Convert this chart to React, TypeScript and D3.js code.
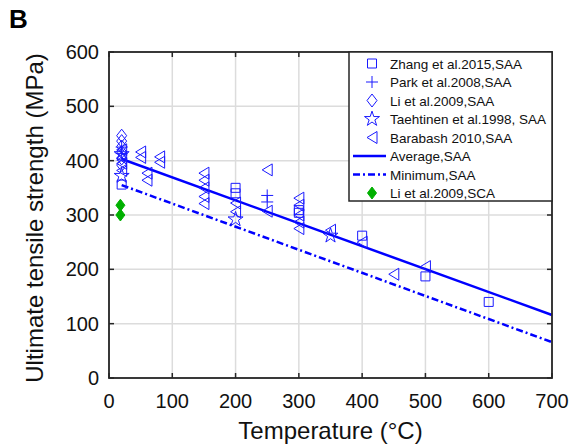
import React from "react";
import * as d3 from "d3";

const xTicks = [0, 100, 200, 300, 400, 500, 600, 700];
const yTicks = [0, 100, 200, 300, 400, 500, 600];

const zhang: [number, number][] = [[20, 356], [200, 350], [200, 340], [300, 309], [300, 304], [400, 262], [500, 187], [600, 140]];
const park: [number, number][] = [[20, 425], [20, 413], [250, 336], [250, 324]];
const liSAA: [number, number][] = [[20, 446], [20, 436], [20, 426], [20, 416], [20, 404], [20, 392]];
const taehtinen: [number, number][] = [[20, 412], [20, 372], [200, 292], [350, 262]];
const barabash: [number, number][] = [
  [20, 420], [20, 405], [20, 395], [20, 382], [50, 416], [50, 406], [60, 377], [60, 364],
  [80, 407], [80, 397], [150, 377], [150, 364], [150, 350], [150, 334], [150, 321],
  [200, 322], [200, 306], [250, 383], [250, 307], [300, 331], [300, 318], [300, 300],
  [300, 287], [300, 275], [350, 272], [400, 250], [450, 191], [500, 205],
];
const liSCA: [number, number][] = [[18, 318], [18, 300]];
const averageLine: [number, number][] = [[20, 403], [700, 116]];
const minimumLine: [number, number][] = [[20, 355], [700, 66]];

const legendLabels = [
  "Zhang et al.2015,SAA",
  "Park et al.2008,SAA",
  "Li et al.2009,SAA",
  "Taehtinen et al.1998, SAA",
  "Barabash 2010,SAA",
  "Average,SAA",
  "Minimum,SAA",
  "Li et al.2009,SCA",
];

const BLUE = "#1a1aff";
const GREEN = "#00b000";
const FONT = "Liberation Sans, Arial, sans-serif";

const L = 109, R = 552, T = 52, B = 378;
const x = d3.scaleLinear().domain([0, 700]).range([L, R]);
const y = d3.scaleLinear().domain([0, 600]).range([B, T]);

type Kind = "square" | "plus" | "diamond" | "star" | "tri" | "fdiamond";

function markerPath(kind: Kind): string {
  switch (kind) {
    case "square": return "M-4.5,-4.5H4.5V4.5H-4.5Z";
    case "plus": return "M-6,0H6M0,-6V6";
    case "diamond": return "M0,-6.5L5,0L0,6.5L-5,0Z";
    case "fdiamond": return "M0,-6L4.5,0L0,6L-4.5,0Z";
    case "tri": return "M-5,0L5,-6L5,6Z";
    case "star": return d3.symbol(d3.symbolStar, 70)() as string;
  }
}

function Marker({ kind, cx, cy }: { kind: Kind; cx: number; cy: number }) {
  const filled = kind === "fdiamond";
  return (
    <path
      d={markerPath(kind)}
      transform={`translate(${cx},${cy})`}
      fill={filled ? GREEN : "none"}
      stroke={filled ? GREEN : BLUE}
      strokeWidth={1}
    />
  );
}

export default function App() {
  const line = d3.line<[number, number]>().x(d => x(d[0])).y(d => y(d[1]));
  const series: { kind: Kind; data: [number, number][] }[] = [
    { kind: "square", data: zhang },
    { kind: "plus", data: park },
    { kind: "diamond", data: liSAA },
    { kind: "star", data: taehtinen },
    { kind: "tri", data: barabash },
  ];
  const legX = 349, legY = 52, legW = 203, legH = 149;
  const rowY = (i: number) => 63.5 + i * 18.5;
  return (
    <svg width={576} height={448} style={{ position: "fixed", left: 0, top: 0, background: "#fff" }} fontFamily={FONT}>
      <rect width={576} height={448} fill="#fff" />
      {/* grid */}
      {xTicks.map(t => (
        <line key={"gx" + t} x1={x(t)} x2={x(t)} y1={T} y2={B} stroke="#dcdcdc" strokeWidth={1.5} />
      ))}
      {yTicks.map(t => (
        <line key={"gy" + t} x1={L} x2={R} y1={y(t)} y2={y(t)} stroke="#dcdcdc" strokeWidth={1.5} />
      ))}
      {/* fit lines */}
      <path d={line(averageLine) as string} stroke="#0000ff" strokeWidth={2.5} fill="none" />
      <path d={line(minimumLine) as string} stroke="#0000ff" strokeWidth={2.5} fill="none" strokeDasharray="7,3,2,3" />
      {/* markers */}
      {series.map(s => s.data.map((d, i) => <Marker key={s.kind + i} kind={s.kind} cx={x(d[0])} cy={y(d[1])} />))}
      {liSCA.map((d, i) => <Marker key={"sca" + i} kind="fdiamond" cx={x(d[0])} cy={y(d[1])} />)}
      {/* axes box */}
      <rect x={L} y={T} width={R - L} height={B - T} fill="none" stroke="#262626" strokeWidth={1.8} />
      {xTicks.map(t => (
        <g key={"tx" + t}>
          <line x1={x(t)} x2={x(t)} y1={B} y2={B - 5} stroke="#262626" strokeWidth={1.5} />
          <line x1={x(t)} x2={x(t)} y1={T} y2={T + 5} stroke="#262626" strokeWidth={1.5} />
          <text x={x(t)} y={408} fontSize={20} textAnchor="middle" fill="#111">{t}</text>
        </g>
      ))}
      {yTicks.map(t => (
        <g key={"ty" + t}>
          <line x1={L} x2={L + 5} y1={y(t)} y2={y(t)} stroke="#262626" strokeWidth={1.5} />
          <line x1={R} x2={R - 5} y1={y(t)} y2={y(t)} stroke="#262626" strokeWidth={1.5} />
          <text x={99} y={y(t) + 7} fontSize={20} textAnchor="end" fill="#111">{t}</text>
        </g>
      ))}
      <text x={(L + R) / 2} y={439} fontSize={24} textAnchor="middle" fill="#111">Temperature (°C)</text>
      <text transform={`translate(43,${(T + B) / 2 + 3}) rotate(-90)`} fontSize={24} textAnchor="middle" fill="#111">
        Ultimate tensile strength (MPa)
      </text>
      <text x={9} y={28} fontSize={26} fontWeight="bold" fill="#000">B</text>
      {/* legend */}
      <rect x={legX} y={legY} width={legW} height={legH} fill="#fff" stroke="#262626" strokeWidth={1.5} />
      {legendLabels.map((lab, i) => {
        const cy = rowY(i);
        let sym: React.ReactNode = null;
        if (i < 5) sym = <Marker kind={series[i].kind} cx={372} cy={cy} />;
        else if (i === 5) sym = <line x1={353} x2={386} y1={cy} y2={cy} stroke="#0000ff" strokeWidth={2.5} />;
        else if (i === 6) sym = <line x1={353} x2={386} y1={cy} y2={cy} stroke="#0000ff" strokeWidth={2.5} strokeDasharray="7,3,2,3" />;
        else sym = <Marker kind="fdiamond" cx={372} cy={cy} />;
        return (
          <g key={lab}>
            {sym}
            <text x={390} y={cy + 5} fontSize={13.5} fill="#111">{lab}</text>
          </g>
        );
      })}
    </svg>
  );
}
